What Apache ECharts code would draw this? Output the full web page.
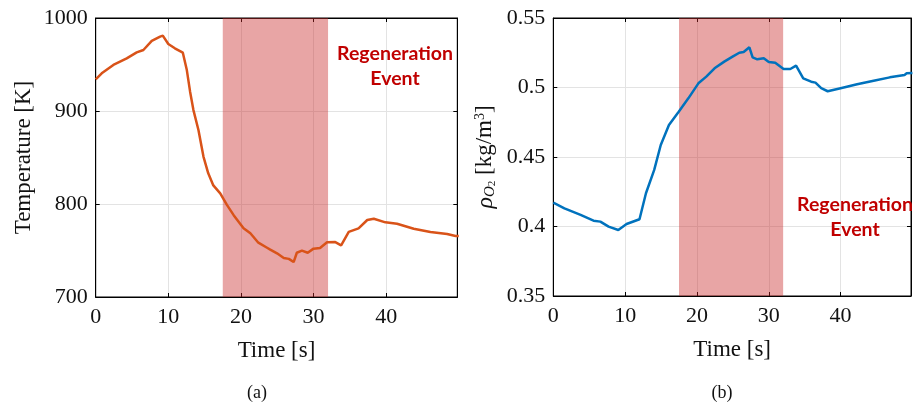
<!DOCTYPE html>
<html>
<head>
<meta charset="utf-8">
<script src="https://cdn.jsdelivr.net/npm/echarts@6/dist/echarts.min.js"></script>
<style>html,body{margin:0;padding:0;background:#fff}#c{width:914px;height:414px}</style>
</head>
<body>
<div id="c"></div>
<script>
// ---- data ----
var tempTime = [0, 0.83, 2.43, 4.27, 5.65, 6.57, 7.72, 8.87, 9.24, 10.0, 10.9, 12.0, 12.55, 13.0, 13.46, 14.15, 14.84, 15.5, 16.2, 17.15, 18.07, 19.0, 20.36, 21.3, 22.4, 23.6, 24.04, 24.97, 25.9, 26.6, 27.26, 27.7, 28.4, 29.2, 30.0, 30.9, 31.86, 33.0, 33.8, 34.85, 36.2, 37.4, 38.3, 39.9, 41.5, 43.8, 46.1, 48.4, 49.56, 50];
var tempK    = [934, 940.5, 949.5, 956.6, 963, 965.6, 975.3, 980, 981, 972, 967.4, 962.7, 944, 920.8, 901, 879.6, 851, 833, 820, 811.5, 799, 788, 774, 768.5, 758.4, 753, 751, 747, 742, 741, 737.6, 747.6, 749.8, 747.6, 752, 752.7, 758.8, 759.1, 755.6, 770, 773.8, 782.8, 784.2, 780.3, 778.8, 773.4, 769.9, 767.7, 765.6, 765.6];

var rhoTime = [0, 1.55, 3.8, 5.6, 6.55, 7.7, 9.05, 10.2, 12.0, 12.9, 14.05, 14.96, 16.1, 17.46, 18.8, 20.2, 21.3, 22.45, 23.8, 24.96, 25.9, 26.5, 27.3, 27.75, 28.4, 29.3, 30.0, 30.9, 32.06, 33.0, 33.8, 34.8, 35.9, 36.5, 37.3, 38.2, 40.0, 42.3, 44.6, 46.85, 48.9, 49.2, 50];
var rhoO2   = [0.4171, 0.4131, 0.4083, 0.4042, 0.4035, 0.3999, 0.3975, 0.4018, 0.4052, 0.4239, 0.4407, 0.4586, 0.473, 0.4826, 0.4922, 0.503, 0.5078, 0.5138, 0.5186, 0.5222, 0.525, 0.5255, 0.5289, 0.5217, 0.5203, 0.521, 0.5183, 0.5178, 0.5133, 0.5133, 0.5157, 0.5066, 0.5042, 0.5035, 0.4995, 0.4973, 0.4995, 0.5023, 0.5049, 0.5073, 0.509, 0.5102, 0.5105];

var regenWindow = [17.5, 32];
var xTicks = [0, 10, 20, 30, 40];
var tempTicks = [700, 800, 900, 1000];
var rhoTicks = [0.35, 0.4, 0.45, 0.5, 0.55];

function pairs(xs, ys) { return xs.map(function (x, i) { return [x, ys[i]]; }); }

var serif = 'Liberation Serif';
var gridLineColor = '#e3e3e3';

function mainX(gi) {
  return {
    type: 'value', gridIndex: gi, min: 0, max: 49.8, interval: 10,
    axisLine: { show: true, onZero: false, lineStyle: { color: '#000', width: 1 } },
    axisTick: { show: true, inside: true, length: 4, lineStyle: { color: '#000' } },
    splitLine: { show: true, lineStyle: { color: gridLineColor, width: 1 } },
    axisLabel: { fontFamily: serif, fontSize: 22, color: '#111', margin: 9,
      formatter: function (v) { return xTicks.indexOf(v) >= 0 ? String(v) : ''; } },
    name: 'Time [s]', nameLocation: 'middle', nameGap: 42,
    nameTextStyle: { fontFamily: serif, fontSize: 23, color: '#111' }
  };
}
function topX(gi) {
  return {
    type: 'value', gridIndex: gi, position: 'top', min: 0, max: 49.8, interval: 10,
    axisLine: { show: true, onZero: false, lineStyle: { color: '#000', width: 1 } },
    axisTick: { show: true, inside: true, length: 4, lineStyle: { color: '#000' } },
    splitLine: { show: false }, axisLabel: { show: false }
  };
}
function mainY(gi, mn, mx, iv, ticks, nm, gap) {
  return {
    type: 'value', gridIndex: gi, min: mn, max: mx, interval: iv,
    axisLine: { show: true, onZero: false, lineStyle: { color: '#000', width: 1 } },
    axisTick: { show: true, inside: true, length: 4, lineStyle: { color: '#000' } },
    splitLine: { show: true, lineStyle: { color: gridLineColor, width: 1 } },
    axisLabel: { fontFamily: serif, fontSize: 22, color: '#111', margin: 8,
      formatter: function (v) { var r = Math.round(v * 1000) / 1000; return String(r); } },
    name: nm, nameLocation: 'middle', nameGap: gap, nameRotate: 90,
    nameTextStyle: { fontFamily: serif, fontSize: 23, color: '#111',
      rich: {
        it: { fontFamily: serif, fontStyle: 'italic', fontSize: 24, color: '#111' },
        sub: { fontFamily: serif, fontStyle: 'italic', fontSize: 15, color: '#111', verticalAlign: 'bottom', padding: [8, 0, 0, 0] },
        sub2: { fontFamily: serif, fontSize: 11, color: '#111', verticalAlign: 'bottom', padding: [10, 0, 0, 0] },
        n: { fontFamily: serif, fontSize: 23, color: '#111' },
        sup: { fontFamily: serif, fontSize: 14, color: '#111', verticalAlign: 'top', padding: [0, 0, 10, 0] }
      } }
  };
}
function rightY(gi, mn, mx, iv) {
  return {
    type: 'value', gridIndex: gi, position: 'right', min: mn, max: mx, interval: iv,
    axisLine: { show: true, onZero: false, lineStyle: { color: '#000', width: 1 } },
    axisTick: { show: true, inside: true, length: 4, lineStyle: { color: '#000' } },
    splitLine: { show: false }, axisLabel: { show: false }
  };
}

var shadeStyle = { color: 'rgba(200,40,40,0.42)' };

var option = {
  animation: false,
  backgroundColor: '#fff',
  grid: [
    { left: 95.7, top: 18, width: 361.6, height: 279, show: true, borderColor: '#000', borderWidth: 1, backgroundColor: 'transparent' },
    { left: 553.3, top: 18, width: 365, height: 278, show: true, borderColor: '#000', borderWidth: 1, backgroundColor: 'transparent' }
  ],
  xAxis: [mainX(0), mainX(1), topX(0), topX(1)],
  yAxis: [
    mainY(0, 700, 1000, 100, tempTicks, 'Temperature [K]', 60),
    mainY(1, 0.35, 0.55, 0.05, rhoTicks, '{it|ρ}{sub|O}{sub2|2} {n|[kg/m}{sup|3}{n|]}', 56),
    rightY(0, 700, 1000, 100),
    rightY(1, 0.35, 0.55, 0.05)
  ],
  series: [
    { type: 'line', xAxisIndex: 0, yAxisIndex: 0, data: pairs(tempTime, tempK), showSymbol: false, symbol: 'none',
      lineStyle: { color: 'rgb(217,83,25)', width: 2.5 }, z: 2 },
    { type: 'line', xAxisIndex: 1, yAxisIndex: 1, data: pairs(rhoTime, rhoO2), showSymbol: false, symbol: 'none',
      lineStyle: { color: 'rgb(0,114,189)', width: 2.5 }, z: 2 },
    { type: 'line', xAxisIndex: 0, yAxisIndex: 0, data: [], z: 3,
      markArea: { silent: true, itemStyle: shadeStyle, data: [[{ xAxis: regenWindow[0] }, { xAxis: regenWindow[1] }]] } },
    { type: 'line', xAxisIndex: 1, yAxisIndex: 1, data: [], z: 3,
      markArea: { silent: true, itemStyle: shadeStyle, data: [[{ xAxis: regenWindow[0] }, { xAxis: regenWindow[1] }]] } }
  ],
  graphic: [
    { type: 'text', z: 100, x: 395, y: 41, style: { text: 'Regeneration\nEvent', textAlign: 'center', fill: '#C00000', font: 'bold 19.5px Lato', lineHeight: 25 } },
    { type: 'text', z: 100, x: 855, y: 192, style: { text: 'Regeneration\nEvent', textAlign: 'center', fill: '#C00000', font: 'bold 19.5px Lato', lineHeight: 25 } },
    { type: 'text', z: 100, x: 257, y: 384, style: { text: '(a)', textAlign: 'center', fill: '#111', font: '18px "Liberation Serif"' } },
    { type: 'text', z: 100, x: 722, y: 384, style: { text: '(b)', textAlign: 'center', fill: '#111', font: '18px "Liberation Serif"' } }
  ]
};

var chart = echarts.init(document.getElementById('c'), null, { renderer: 'canvas' });
chart.setOption(option);
</script>
</body>
</html>
